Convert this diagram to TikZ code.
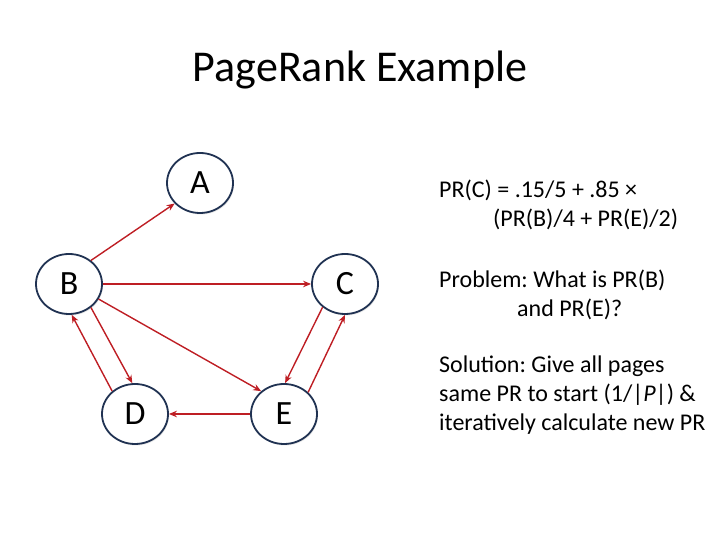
\documentclass[tikz,border=0pt]{standalone}
\usepackage{fontspec}
\setmainfont{Carlito}
\frenchspacing
\usetikzlibrary{arrows.meta,shapes.geometric,shadows}
\definecolor{linkred}{RGB}{190,30,36}
\definecolor{pageborder}{RGB}{32,50,82}
\tikzset{page/.style={ellipse,draw=pageborder,line width=1.8pt,fill=white,
  minimum width=66pt,minimum height=60pt,inner sep=0pt,font=\fontsize{34}{40}\selectfont,
  drop shadow={opacity=.2,shadow xshift=1pt,shadow yshift=-1.5pt}},
 link/.style={-{Stealth[length=8pt,width=6.5pt]},linkred,line width=1.4pt},
 note/.style={anchor=north west,align=left,inner sep=0pt,
  font=\fontsize{24}{29}\selectfont}}

\begin{document}
\begin{tikzpicture}[x=1pt,y=1pt]
\useasboundingbox (0,0) rectangle (720,540);
\node[font=\fontsize{44}{50}\selectfont,anchor=base] (title) at (360,458) {PageRank Example};
% the pages
\node[page] (A) at (200,357) {A};
\node[page] (B) at (69,256) {B};
\node[page] (C) at (345,256) {C};
\node[page] (D) at (135,126) {D};
\node[page] (E) at (284,126) {E};
% the links
\draw[link] (B.47)--(A.219);
\draw[link] (B)--(C);
\draw[link] (B.-47)--(D.95);
\draw[link] (D.135)--(B.-85);
\draw[link] (B.-27)--(E.135);
\draw[link] (C.-134)--(E.88);
\draw[link] (E.42)--(C.-90);
\draw[link] (E)--(D);
% the text
\node[note] (formula) at (439,360) {PR(C) = .15/5 + .85 ×\\
  \hspace*{54pt}(PR(B)/4 + PR(E)/2)};
\node[note] (problem) at (439,270) {Problem: What is PR(B)\\
  \hspace*{78pt}and PR(E)?};
\node[note] (solution) at (439,184) {Solution: Give all pages\\
  same PR to start (1/|\textit{P}|) \&\\ iteratively calculate new PR};
\end{tikzpicture}
\end{document}
